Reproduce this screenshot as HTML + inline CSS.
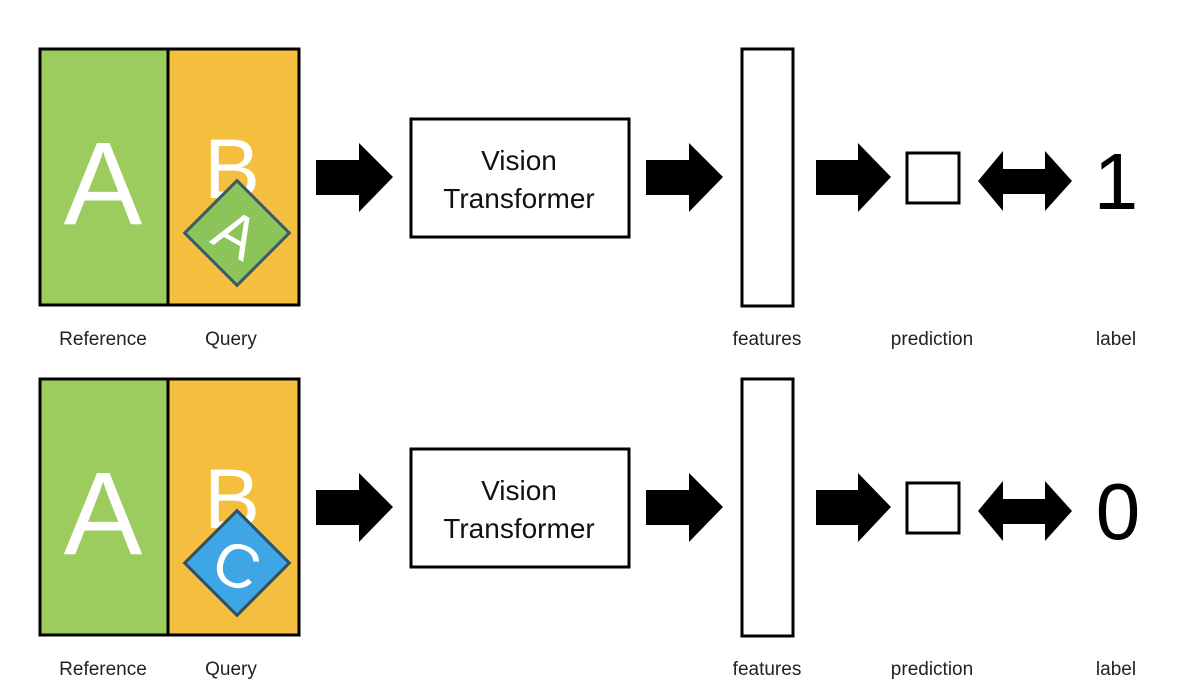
<!DOCTYPE html>
<html><head><meta charset="utf-8"><style>
html,body{margin:0;padding:0;background:#fff;}
svg{display:block;}
text{font-family:"Liberation Sans",sans-serif;}
</style></head><body>
<svg width="1184" height="696" viewBox="0 0 1184 696" xmlns="http://www.w3.org/2000/svg">
<defs>
<g id="rowbase">
  <rect x="40" y="49" width="128" height="256" fill="#9ccc5e"/>
  <rect x="168" y="49" width="131" height="256" fill="#f4bf3e"/>
  <rect x="40" y="49" width="259" height="256" fill="none" stroke="#000" stroke-width="3"/>
  <line x1="168" y1="49" x2="168" y2="305" stroke="#000" stroke-width="3"/>
  <text x="103" y="224" font-size="118" fill="#fff" text-anchor="middle">A</text>
  <text x="232" y="198" font-size="84" fill="#fff" text-anchor="middle">B</text>
  <polygon points="316,160 359,160 359,143 393,177 359,212 359,195 316,195" fill="#000"/>
  <rect x="411" y="119" width="218" height="118" fill="#fff" stroke="#000" stroke-width="3"/>
  <text x="519" y="170" font-size="28" text-anchor="middle" fill="#111">Vision</text>
  <text x="519" y="208" font-size="28" text-anchor="middle" fill="#111">Transformer</text>
  <polygon points="646,160 689,160 689,143 723,177 689,212 689,195 646,195" fill="#000"/>
  <rect x="742" y="49" width="51" height="257" fill="#fff" stroke="#000" stroke-width="3"/>
  <polygon points="816,160 858,160 858,143 891,177 858,212 858,195 816,195" fill="#000"/>
  <rect x="907" y="153" width="52" height="50" fill="#fff" stroke="#000" stroke-width="3"/>
  <polygon points="978,181 1003,151 1003,169 1045,169 1045,151 1072,181 1045,211 1045,194 1003,194 1003,211" fill="#000"/>
  <g font-size="19" fill="#222" text-anchor="middle">
    <text x="103" y="345">Reference</text>
    <text x="231" y="345">Query</text>
    <text x="767" y="345">features</text>
    <text x="932" y="345">prediction</text>
    <text x="1116" y="345">label</text>
  </g>
</g>
</defs>
<use href="#rowbase"/>
<g transform="translate(237,233) rotate(45)">
  <rect x="-37" y="-37" width="74" height="74" fill="#8cc45a" stroke="#3b5a66" stroke-width="3"/>
</g>
<text x="0" y="0" font-size="60" fill="#fff" text-anchor="middle" transform="translate(237,233) rotate(30) translate(0,22)">A</text>
<use href="#rowbase" transform="translate(0,330)"/>
<g transform="translate(237,563) rotate(45)">
  <rect x="-37" y="-37" width="74" height="74" fill="#3fa6e6" stroke="#2f4f62" stroke-width="3"/>
</g>
<text x="0" y="0" font-size="62" fill="#fff" text-anchor="middle" transform="translate(237,565) rotate(20) translate(0,22)">C</text>
<text x="1116" y="209" font-size="80" fill="#000" text-anchor="middle">1</text>
<text x="1118" y="539" font-size="80" fill="#000" text-anchor="middle">0</text>
</svg>
</body></html>
